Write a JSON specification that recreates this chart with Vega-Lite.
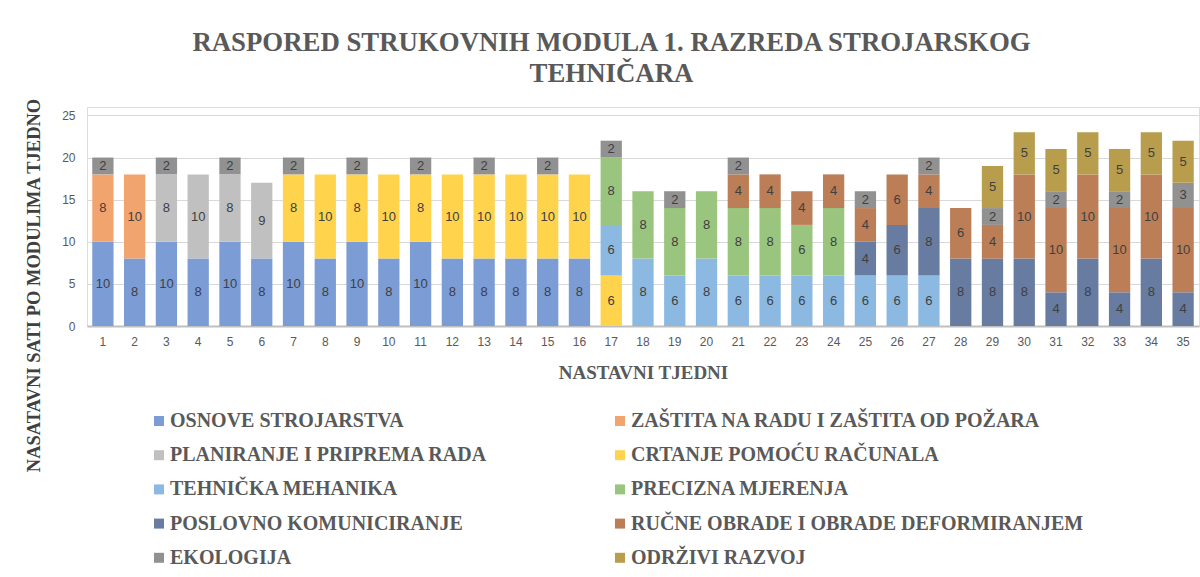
{
  "$schema": "https://vega.github.io/schema/vega-lite/v6.json",
  "width": 1112,
  "height": 219,
  "autosize": {"type": "none"},
  "padding": {"left": 87, "top": 107, "right": 1, "bottom": 251},
  "background": "white",
  "title": {
    "text": ["RASPORED STRUKOVNIH MODULA 1. RAZREDA STROJARSKOG", "TEHNIČARA"],
    "font": "Liberation Serif",
    "fontWeight": "bold",
    "fontSize": 26.8,
    "lineHeight": 31,
    "color": "#595959",
    "anchor": "middle",
    "frame": "bounds",
    "offset": 10
  },
  "datasets": {
    "mods": [
      {"m": "OSNOVE STROJARSTVA", "k": 1},
      {"m": "ZAŠTITA NA RADU I ZAŠTITA OD POŽARA", "k": 2},
      {"m": "PLANIRANJE I PRIPREMA RADA", "k": 3},
      {"m": "CRTANJE POMOĆU RAČUNALA", "k": 4},
      {"m": "TEHNIČKA MEHANIKA", "k": 5},
      {"m": "PRECIZNA MJERENJA", "k": 6},
      {"m": "POSLOVNO KOMUNICIRANJE", "k": 7},
      {"m": "RUČNE OBRADE I OBRADE DEFORMIRANJEM", "k": 8},
      {"m": "EKOLOGIJA", "k": 9},
      {"m": "ODRŽIVI RAZVOJ", "k": 10}
    ],
    "rows": [
      {"w": 1, "m": "OSNOVE STROJARSTVA", "h": 10},
      {"w": 1, "m": "ZAŠTITA NA RADU I ZAŠTITA OD POŽARA", "h": 8},
      {"w": 1, "m": "EKOLOGIJA", "h": 2},
      {"w": 2, "m": "OSNOVE STROJARSTVA", "h": 8},
      {"w": 2, "m": "ZAŠTITA NA RADU I ZAŠTITA OD POŽARA", "h": 10},
      {"w": 3, "m": "OSNOVE STROJARSTVA", "h": 10},
      {"w": 3, "m": "PLANIRANJE I PRIPREMA RADA", "h": 8},
      {"w": 3, "m": "EKOLOGIJA", "h": 2},
      {"w": 4, "m": "OSNOVE STROJARSTVA", "h": 8},
      {"w": 4, "m": "PLANIRANJE I PRIPREMA RADA", "h": 10},
      {"w": 5, "m": "OSNOVE STROJARSTVA", "h": 10},
      {"w": 5, "m": "PLANIRANJE I PRIPREMA RADA", "h": 8},
      {"w": 5, "m": "EKOLOGIJA", "h": 2},
      {"w": 6, "m": "OSNOVE STROJARSTVA", "h": 8},
      {"w": 6, "m": "PLANIRANJE I PRIPREMA RADA", "h": 9},
      {"w": 7, "m": "OSNOVE STROJARSTVA", "h": 10},
      {"w": 7, "m": "CRTANJE POMOĆU RAČUNALA", "h": 8},
      {"w": 7, "m": "EKOLOGIJA", "h": 2},
      {"w": 8, "m": "OSNOVE STROJARSTVA", "h": 8},
      {"w": 8, "m": "CRTANJE POMOĆU RAČUNALA", "h": 10},
      {"w": 9, "m": "OSNOVE STROJARSTVA", "h": 10},
      {"w": 9, "m": "CRTANJE POMOĆU RAČUNALA", "h": 8},
      {"w": 9, "m": "EKOLOGIJA", "h": 2},
      {"w": 10, "m": "OSNOVE STROJARSTVA", "h": 8},
      {"w": 10, "m": "CRTANJE POMOĆU RAČUNALA", "h": 10},
      {"w": 11, "m": "OSNOVE STROJARSTVA", "h": 10},
      {"w": 11, "m": "CRTANJE POMOĆU RAČUNALA", "h": 8},
      {"w": 11, "m": "EKOLOGIJA", "h": 2},
      {"w": 12, "m": "OSNOVE STROJARSTVA", "h": 8},
      {"w": 12, "m": "CRTANJE POMOĆU RAČUNALA", "h": 10},
      {"w": 13, "m": "OSNOVE STROJARSTVA", "h": 8},
      {"w": 13, "m": "CRTANJE POMOĆU RAČUNALA", "h": 10},
      {"w": 13, "m": "EKOLOGIJA", "h": 2},
      {"w": 14, "m": "OSNOVE STROJARSTVA", "h": 8},
      {"w": 14, "m": "CRTANJE POMOĆU RAČUNALA", "h": 10},
      {"w": 15, "m": "OSNOVE STROJARSTVA", "h": 8},
      {"w": 15, "m": "CRTANJE POMOĆU RAČUNALA", "h": 10},
      {"w": 15, "m": "EKOLOGIJA", "h": 2},
      {"w": 16, "m": "OSNOVE STROJARSTVA", "h": 8},
      {"w": 16, "m": "CRTANJE POMOĆU RAČUNALA", "h": 10},
      {"w": 17, "m": "CRTANJE POMOĆU RAČUNALA", "h": 6},
      {"w": 17, "m": "TEHNIČKA MEHANIKA", "h": 6},
      {"w": 17, "m": "PRECIZNA MJERENJA", "h": 8},
      {"w": 17, "m": "EKOLOGIJA", "h": 2},
      {"w": 18, "m": "TEHNIČKA MEHANIKA", "h": 8},
      {"w": 18, "m": "PRECIZNA MJERENJA", "h": 8},
      {"w": 19, "m": "TEHNIČKA MEHANIKA", "h": 6},
      {"w": 19, "m": "PRECIZNA MJERENJA", "h": 8},
      {"w": 19, "m": "EKOLOGIJA", "h": 2},
      {"w": 20, "m": "TEHNIČKA MEHANIKA", "h": 8},
      {"w": 20, "m": "PRECIZNA MJERENJA", "h": 8},
      {"w": 21, "m": "TEHNIČKA MEHANIKA", "h": 6},
      {"w": 21, "m": "PRECIZNA MJERENJA", "h": 8},
      {"w": 21, "m": "RUČNE OBRADE I OBRADE DEFORMIRANJEM", "h": 4},
      {"w": 21, "m": "EKOLOGIJA", "h": 2},
      {"w": 22, "m": "TEHNIČKA MEHANIKA", "h": 6},
      {"w": 22, "m": "PRECIZNA MJERENJA", "h": 8},
      {"w": 22, "m": "RUČNE OBRADE I OBRADE DEFORMIRANJEM", "h": 4},
      {"w": 23, "m": "TEHNIČKA MEHANIKA", "h": 6},
      {"w": 23, "m": "PRECIZNA MJERENJA", "h": 6},
      {"w": 23, "m": "RUČNE OBRADE I OBRADE DEFORMIRANJEM", "h": 4},
      {"w": 24, "m": "TEHNIČKA MEHANIKA", "h": 6},
      {"w": 24, "m": "PRECIZNA MJERENJA", "h": 8},
      {"w": 24, "m": "RUČNE OBRADE I OBRADE DEFORMIRANJEM", "h": 4},
      {"w": 25, "m": "TEHNIČKA MEHANIKA", "h": 6},
      {"w": 25, "m": "POSLOVNO KOMUNICIRANJE", "h": 4},
      {"w": 25, "m": "RUČNE OBRADE I OBRADE DEFORMIRANJEM", "h": 4},
      {"w": 25, "m": "EKOLOGIJA", "h": 2},
      {"w": 26, "m": "TEHNIČKA MEHANIKA", "h": 6},
      {"w": 26, "m": "POSLOVNO KOMUNICIRANJE", "h": 6},
      {"w": 26, "m": "RUČNE OBRADE I OBRADE DEFORMIRANJEM", "h": 6},
      {"w": 27, "m": "TEHNIČKA MEHANIKA", "h": 6},
      {"w": 27, "m": "POSLOVNO KOMUNICIRANJE", "h": 8},
      {"w": 27, "m": "RUČNE OBRADE I OBRADE DEFORMIRANJEM", "h": 4},
      {"w": 27, "m": "EKOLOGIJA", "h": 2},
      {"w": 28, "m": "POSLOVNO KOMUNICIRANJE", "h": 8},
      {"w": 28, "m": "RUČNE OBRADE I OBRADE DEFORMIRANJEM", "h": 6},
      {"w": 29, "m": "POSLOVNO KOMUNICIRANJE", "h": 8},
      {"w": 29, "m": "RUČNE OBRADE I OBRADE DEFORMIRANJEM", "h": 4},
      {"w": 29, "m": "EKOLOGIJA", "h": 2},
      {"w": 29, "m": "ODRŽIVI RAZVOJ", "h": 5},
      {"w": 30, "m": "POSLOVNO KOMUNICIRANJE", "h": 8},
      {"w": 30, "m": "RUČNE OBRADE I OBRADE DEFORMIRANJEM", "h": 10},
      {"w": 30, "m": "ODRŽIVI RAZVOJ", "h": 5},
      {"w": 31, "m": "POSLOVNO KOMUNICIRANJE", "h": 4},
      {"w": 31, "m": "RUČNE OBRADE I OBRADE DEFORMIRANJEM", "h": 10},
      {"w": 31, "m": "EKOLOGIJA", "h": 2},
      {"w": 31, "m": "ODRŽIVI RAZVOJ", "h": 5},
      {"w": 32, "m": "POSLOVNO KOMUNICIRANJE", "h": 8},
      {"w": 32, "m": "RUČNE OBRADE I OBRADE DEFORMIRANJEM", "h": 10},
      {"w": 32, "m": "ODRŽIVI RAZVOJ", "h": 5},
      {"w": 33, "m": "POSLOVNO KOMUNICIRANJE", "h": 4},
      {"w": 33, "m": "RUČNE OBRADE I OBRADE DEFORMIRANJEM", "h": 10},
      {"w": 33, "m": "EKOLOGIJA", "h": 2},
      {"w": 33, "m": "ODRŽIVI RAZVOJ", "h": 5},
      {"w": 34, "m": "POSLOVNO KOMUNICIRANJE", "h": 8},
      {"w": 34, "m": "RUČNE OBRADE I OBRADE DEFORMIRANJEM", "h": 10},
      {"w": 34, "m": "ODRŽIVI RAZVOJ", "h": 5},
      {"w": 35, "m": "POSLOVNO KOMUNICIRANJE", "h": 4},
      {"w": 35, "m": "RUČNE OBRADE I OBRADE DEFORMIRANJEM", "h": 10},
      {"w": 35, "m": "EKOLOGIJA", "h": 3},
      {"w": 35, "m": "ODRŽIVI RAZVOJ", "h": 5}
    ]
  },
  "data": {"name": "rows"},
  "transform": [
    {"lookup": "m", "from": {"data": {"name": "mods"}, "key": "m", "fields": ["k"]}},
    {"stack": "h", "groupby": ["w"], "sort": [{"field": "k", "order": "ascending"}], "as": ["y0", "y1"]}
  ],
  "encoding": {
    "x": {
      "field": "w",
      "type": "ordinal",
      "title": "NASTAVNI TJEDNI",
      "scale": {"paddingInner": 0.33, "paddingOuter": 0.165},
      "axis": {
        "labelAngle": 0,
        "labelFont": "Liberation Sans",
        "labelFontSize": 12,
        "labelColor": "#595959",
        "labelPadding": 10,
        "ticks": false,
        "domainColor": "#BFBFBF",
        "domainWidth": 2,
        "titleFont": "Liberation Serif",
        "titleFontWeight": "bold",
        "titleFontSize": 19,
        "titleColor": "#595959",
        "titlePadding": 16
      }
    }
  },
  "layer": [
    {
      "mark": {"type": "bar"},
      "encoding": {
        "y": {
          "field": "y0",
          "type": "quantitative",
          "scale": {"domain": [0, 25]},
          "title": "NASATAVNI SATI PO MODULIMA TJEDNO",
          "axis": {
            "values": [0, 5, 10, 15, 20, 25],
            "labelFont": "Liberation Sans",
            "labelFontSize": 12,
            "labelColor": "#595959",
            "labelPadding": 12,
            "ticks": false,
            "domain": false,
            "gridColor": "#D9D9D9",
            "titleFont": "Liberation Serif",
            "titleFontWeight": "bold",
            "titleFontSize": 18.5,
            "titleColor": "#404040",
            "titleAngle": -90,
            "titleX": -44,
            "titleY": 178,
            "titleAlign": "center",
            "titleBaseline": "bottom"
          }
        },
        "y2": {"field": "y1"},
        "color": {
          "field": "m",
          "type": "nominal",
          "scale": {
            "domain": ["OSNOVE STROJARSTVA", "PLANIRANJE I PRIPREMA RADA", "TEHNIČKA MEHANIKA", "POSLOVNO KOMUNICIRANJE", "EKOLOGIJA", "ZAŠTITA NA RADU I ZAŠTITA OD POŽARA", "CRTANJE POMOĆU RAČUNALA", "PRECIZNA MJERENJA", "RUČNE OBRADE I OBRADE DEFORMIRANJEM", "ODRŽIVI RAZVOJ"],
            "range": ["#7C9CD6", "#C0C0C0", "#8CB9E1", "#677CA0", "#919191", "#F2A46F", "#FFD34C", "#9AC57E", "#BB7E56", "#B79D4C"]
          },
          "legend": {
            "title": null,
            "orient": "none",
            "legendX": 62,
            "legendY": 304,
            "padding": 0,
            "columns": 2,
            "columnPadding": 122,
            "rowPadding": 14.2,
            "symbolType": "square",
            "symbolSize": 100,
            "symbolStrokeWidth": 0,
            "labelFont": "Liberation Serif",
            "labelFontWeight": "bold",
            "labelFontSize": 20,
            "labelColor": "#595959",
            "labelLimit": 600,
            "labelOffset": 1
          }
        }
      }
    },
    {
      "transform": [
        {"fold": ["y0", "y1"], "as": ["edge", "val"]}
      ],
      "mark": {"type": "text", "font": "Liberation Sans", "fontSize": 13, "color": "#404040", "baseline": "middle"},
      "encoding": {
        "y": {"field": "val", "aggregate": "mean", "type": "quantitative", "stack": null},
        "detail": {"field": "m", "type": "nominal"},
        "text": {"field": "h", "type": "quantitative"}
      }
    }
  ]
}
